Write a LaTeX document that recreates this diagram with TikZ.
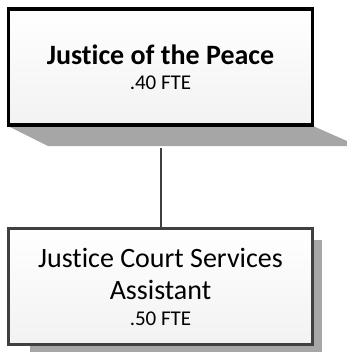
\documentclass[tikz,border=0pt]{standalone}
\usepackage{fontspec}
\setmainfont{Carlito}[Ligatures=NoCommon]
\definecolor{boxfill}{HTML}{F2F2F2}
\definecolor{shadowgray}{HTML}{A6A6A6}
\definecolor{linegray}{HTML}{404040}
\begin{document}
\begin{tikzpicture}[x=1pt,y=-1pt,
  box/.style={rectangle,minimum width=304pt,minimum height=116pt,align=center,inner sep=0pt,
    top color=white,bottom color=boxfill,font=\fontsize{28}{31}\selectfont},
  topbox/.style={box,draw=black,line width=3.5pt},
  lowbox/.style={box,draw=linegray,line width=3pt},
  conn/.style={draw=linegray,line width=2pt}]
\useasboundingbox (0,0) rectangle (347,354);
% shadows
\fill[shadowgray] (8,126) -- (313,126) -- (347,141) -- (347,146) -- (48,146) -- cycle;
\fill[shadowgray] (30,240) rectangle (322,352);
\fill[shadowgray] (313,245) rectangle (322,352);
\node[topbox] (jp) at (160.5,67) {\bfseries Justice of the Peace\\[-6pt]\fontsize{21}{25}\selectfont .40 FTE};
\node[lowbox] (jcsa) at (160.5,286.5) {Justice Court Services\\[1pt]Assistant\\[-5pt]\fontsize{21}{26}\selectfont .50 FTE};
\coordinate (top) at (160.5,148);
\draw[conn] (top) -- (jcsa.north);
\end{tikzpicture}
\end{document}
